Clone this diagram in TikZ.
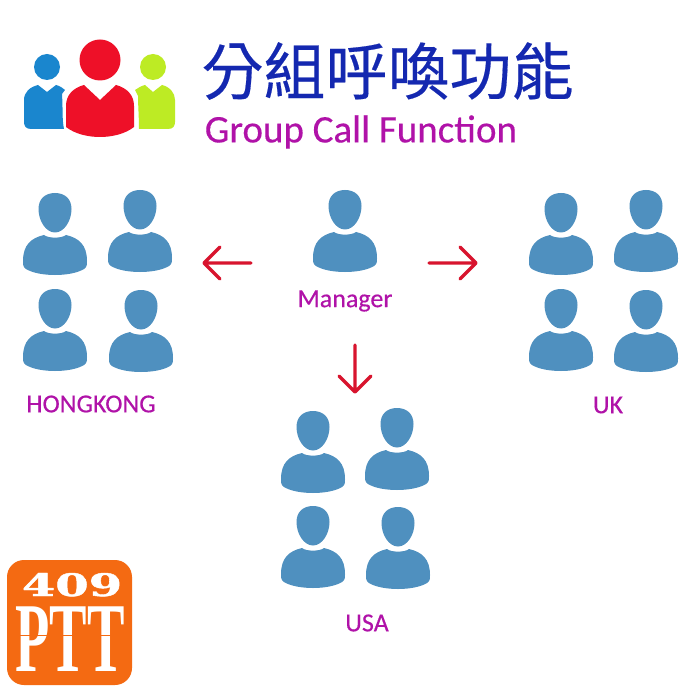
\documentclass[tikz,border=0pt]{standalone}
\usepackage{fontspec}
\setmainfont{Carlito}
\newfontfamily\labelfont[FakeBold=0.35]{Carlito}
\newfontfamily\cjkfont[FakeBold=0.3]{Noto Sans CJK TC}
\newfontfamily\logofont{Liberation Serif}
\newfontfamily\heavyfont[BoldFeatures={FakeBold=1.2}]{DejaVu Serif}
\definecolor{personblue}{HTML}{4F90BF}
\definecolor{labelmag}{HTML}{B012A8}
\definecolor{arrowred}{HTML}{D8142E}
\definecolor{titleblue}{HTML}{1428B0}
\definecolor{iconblue}{HTML}{1A86CE}
\definecolor{iconred}{HTML}{EE1028}
\definecolor{icongreen}{HTML}{BDEB24}
\definecolor{logoorange}{HTML}{F46A12}
\tikzset{
  x=1pt,y=-1pt,
  person/.pic={
    \fill[personblue] (-16.5,-4) .. controls (-16.5,-14) and (-10,-20) .. (0,-20)
      .. controls (10,-20) and (16.5,-14) .. (16.5,-4)
      .. controls (16.5,8) and (9,19.5) .. (0,19.5)
      .. controls (-9,19.5) and (-16.5,8) .. (-16.5,-4) -- cycle;
    \fill[personblue] (-11,22) .. controls (-7,25.5) and (7,25.5) .. (11,22)
      .. controls (24,25) and (32,32) .. (32,48)
      .. controls (32,52) and (32,54) .. (29,56)
      .. controls (16,64) and (-16,64) .. (-29,56)
      .. controls (-32,54) and (-32,52) .. (-32,48)
      .. controls (-32,32) and (-24,25) .. (-11,22) -- cycle;
  },
  grouplabel/.style={font=\labelfont\fontsize{26}{26}\selectfont,text=labelmag,inner sep=0pt,anchor=center},
  redarrow/.style={draw=arrowred,line width=3.4pt,line cap=round,line join=round},
}
\begin{document}
\begin{tikzpicture}
\useasboundingbox (0,0) rectangle (700,700);
\fill[white] (0,0) rectangle (700,700);

% top icon
\fill[iconblue] (47,67) circle (13);
\fill[iconblue] (38,85) -- (47,92) -- (56,85) .. controls (60,86) and (63,88) .. (65,90) -- (62,94) .. controls (63,110) and (62,120) .. (64,129) -- (31,129) .. controls (26,129) and (24,126) .. (24,122) -- (24,100) .. controls (24,92) and (30,87) .. (38,85) -- cycle;
\fill[icongreen] (153,67) circle (13);
\fill[icongreen] (145,85) -- (153,92) -- (162,85) .. controls (170,87) and (175,93) .. (175,100) -- (175,122) .. controls (175,126) and (173,129) .. (168,129) -- (139,129) .. controls (139,118) and (138,104) .. (138,96) -- (135,90) .. controls (138,88) and (141,86) .. (145,85) -- cycle;
\fill[iconred] (100,60) circle (20.5);
\fill[iconred] (84,85) -- (100,100) -- (116,85) .. controls (127,88) and (134,95) .. (134,106) -- (134,127) .. controls (125,134) and (112,137) .. (100,137) .. controls (88,137) and (75,134) .. (66,127) -- (66,106) .. controls (66,95) and (73,88) .. (84,85) -- cycle;

% title
\node[inner sep=0pt,text=titleblue,font=\fontsize{62}{62}\cjkfont] (title) at (387.5,71) {分組呼喚功能};
\node[inner sep=0pt,text=labelmag,font=\labelfont\fontsize{39}{39}\selectfont] (subtitle) at (361,132) {Group Call Function};

% people
\foreach \px/\py in {345/210, 55/213,140/210,55/309,141/310, 561/213,646/210,561/309,646/310, 313/431,397/428,313/526,398/527}
  \pic at (\px,\py) {person};

% labels
\node[grouplabel] (manager) at (345,301) {Manager};
\node[grouplabel] (hk) at (91,404) {HONGKONG};
\node[grouplabel] (uk) at (608,405) {UK};
\node[grouplabel] (usa) at (367,623) {USA};

% arrows
\coordinate (la) at (251,263); \coordinate (lb) at (204,263);
\coordinate (ra) at (429,263); \coordinate (rb) at (476,263);
\coordinate (da) at (355,345); \coordinate (db) at (355,392);
\draw[redarrow] (la) -- (lb) (220,247) -- (lb) -- (220,279);
\draw[redarrow] (ra) -- (rb) (460,247) -- (rb) -- (460,279);
\draw[redarrow] (da) -- (db) (339,376) -- (db) -- (371,376);

% logo
\fill[logoorange,rounded corners=17pt] (7,560) rectangle (132,685);
\node[inner sep=0pt,text=white,xscale=1.55,yscale=1.0,text height=23pt,text depth=0pt] (n409) at (72,584.5) {\heavyfont\bfseries\fontsize{31}{31}\selectfont 409};
\node[inner sep=0pt,text=white,xscale=1.08,yscale=1.9,text height=34pt,text depth=0pt] (ptt) at (70,639) {\logofont\bfseries\fontsize{52}{52}\selectfont PTT};
\draw[logoorange,line width=0.8pt] (16,635) -- (123,635);
\end{tikzpicture}
\end{document}
